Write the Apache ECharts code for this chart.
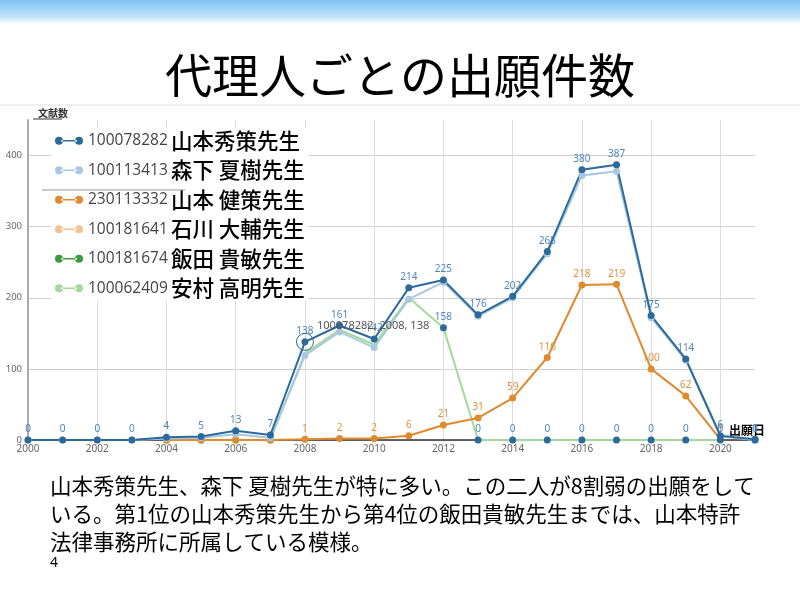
<!DOCTYPE html>
<html>
<head>
<meta charset="utf-8">
<script src="https://cdn.jsdelivr.net/npm/echarts@6/dist/echarts.min.js"></script>
<style>
  html, body { margin: 0; padding: 0; background: #fff; }
  #chart { width: 800px; height: 600px; }
</style>
</head>
<body>
<div id="chart"></div>
<script>
// 出願年
const years = ['2000','2001','2002','2003','2004','2005','2006','2007','2008','2009','2010',
  '2011','2012','2013','2014','2015','2016','2017','2018','2019','2020','2021'];

// 代理人コードと氏名（凡例順）
const agentIds = ['100078282','100113413','230113332','100181641','100181674','100062409'];
const agentNames = ['山本秀策先生','森下 夏樹先生','山本 健策先生','石川 大輔先生','飯田 貴敏先生','安村 高明先生'];

// 年ごとの文献数
const yamamotoShusaku = [0,0,0,0,4,5,13,7,138,161,142,214,225,176,202,265,380,387,175,114,6,1];
const morishita       = [0,0,0,0,2,3,8,3,119,152,130,198,222,174,200,262,372,378,172,112,5,0];
const yamamotoKensaku = [null,null,null,null,0,0,0,0,1,2,2,6,21,31,59,116,218,219,100,62,1,null];
const ishikawa        = [null,null,null,null,0,0,0,0,null,null,null,null,null,null,null,null,null,null,null,null,null,null];
const iida            = [null,null,null,null,0,0,0,0,null,null,null,null,null,null,null,null,null,null,null,null,null,null];
const yasumura        = [null,null,null,null,0,0,0,0,122,155,134,200,158,0,0,0,0,0,0,0,0,null];
// ラベル付きで表示されている点（2012年以降）
const markedPoints    = [null,null,null,null,null,null,null,null,null,null,null,null,158,0,0,0,0,0,0,0,0,0];

const colors = ['#2b6a9b','#a9c8e0','#e08a2e','#f5c18d','#3d9a3d','#a3d99a'];
const labelBlue = '#4d87bd';

const iconPath = 'path://M0,5a4,4 0 1,0 8,0a4,4 0 1,0 -8,0Z M20,5a4,4 0 1,0 8,0a4,4 0 1,0 -8,0Z M6,4.2h16v1.6h-16Z';

function lineSeries(idx, data, extra) {
  return Object.assign({
    name: agentNames[idx],
    type: 'line',
    data: data,
    symbol: 'circle',
    symbolSize: 7,
    showAllSymbol: true,
    connectNulls: false,
    color: colors[idx],
    lineStyle: { width: 2, color: colors[idx] },
    itemStyle: { color: colors[idx] },
    emphasis: { disabled: true },
  }, extra || {});
}

const chart = echarts.init(document.getElementById('chart'));
chart.setOption({
  backgroundColor: '#fff',
  animation: false,
  textStyle: { fontFamily: 'Noto Sans, Noto Sans CJK JP' },
  title: {
    text: '代理人ごとの出願件数',
    left: 'center',
    top: 47,
    textStyle: { fontSize: 47, fontWeight: 'normal', color: '#000', fontFamily: 'Noto Sans CJK JP' },
  },
  graphic: [
    {
      type: 'rect', left: 0, top: 0, z: 0,
      shape: { width: 800, height: 24 },
      style: {
        fill: new echarts.graphic.LinearGradient(0, 0, 0, 1, [
          { offset: 0, color: '#80c2f3' },
          { offset: 0.7, color: '#c0e2fb' },
          { offset: 1, color: '#ffffff' },
        ]),
      },
    },
    { type: 'line', z: 1, shape: { x1: 0, y1: 105, x2: 800, y2: 105 }, style: { stroke: '#e2e2e2', lineWidth: 1 } },
    { type: 'line', z: 20, shape: { x1: 33, y1: 119, x2: 62, y2: 119 }, style: { stroke: '#333', lineWidth: 1 } },
    { type: 'line', z: 20, shape: { x1: 42, y1: 190, x2: 185, y2: 190 }, style: { stroke: '#999', lineWidth: 1 } },
    {
      type: 'text', left: 50, top: 472, z: 10,
      style: {
        text: '山本秀策先生、森下 夏樹先生が特に多い。この二人が8割弱の出願をして\nいる。第1位の山本秀策先生から第4位の飯田貴敏先生までは、山本特許\n法律事務所に所属している模様。',
        fontSize: 21.5, lineHeight: 28, fill: '#000', fontFamily: 'Noto Sans CJK JP',
      },
    },
    {
      type: 'text', left: 50, top: 556, z: 10,
      style: { text: '4', fontSize: 14, fill: '#000', fontFamily: 'Noto Sans' },
    },
  ],
  legend: {
    orient: 'vertical',
    left: 51,
    top: 128,
    padding: [2, 4, 2, 4],
    itemGap: 8,
    itemWidth: 28,
    itemHeight: 10,
    backgroundColor: '#fff',
    z: 10,
    data: agentNames.map(n => ({ name: n, icon: iconPath })),
    formatter: name => `{id|${agentIds[agentNames.indexOf(name)]}} {nm|${name}}`,
    textStyle: {
      rich: {
        id: { fontSize: 15.5, color: '#444', fontFamily: 'Open Sans', lineHeight: 24 },
        nm: { fontSize: 21.5, color: '#000', fontFamily: 'Noto Sans CJK JP', fontWeight: 500, lineHeight: 24 },
      },
    },
  },
  grid: { left: 28, right: 45, top: 120, bottom: 160, containLabel: false },
  xAxis: {
    type: 'category',
    data: years,
    boundaryGap: false,
    name: '出願日',
    nameLocation: 'end',
    nameGap: -26,
    nameTextStyle: {
      fontSize: 12, fontWeight: 'bold', color: '#000', align: 'left',
      verticalAlign: 'bottom', padding: [0, 0, 2, 0], backgroundColor: 'rgba(255,255,255,0.8)',
    },
    axisLine: { show: true, lineStyle: { color: '#333', width: 1.5 } },
    axisTick: { show: false },
    axisLabel: { interval: 1, color: '#666', fontSize: 10, margin: 4 },
    splitLine: { show: true, interval: 1, lineStyle: { color: '#dcdcdc', width: 1 } },
  },
  yAxis: {
    type: 'value',
    min: 0,
    max: 450,
    interval: 100,
    name: '文献数',
    nameLocation: 'end',
    nameGap: 1,
    nameTextStyle: { fontSize: 10, fontWeight: 'bold', color: '#333', align: 'left', padding: [0, 0, 0, 10] },
    axisLine: { show: true, lineStyle: { color: '#aaa', width: 2 } },
    axisTick: { show: false },
    axisLabel: { color: '#666', fontSize: 9.5, margin: 6, showMaxLabel: false },
    splitLine: { show: true, showMaxLine: false, lineStyle: { color: '#d0d0d0', width: 1 } },
  },
  series: [
    lineSeries(4, iida),
    lineSeries(3, ishikawa),
    lineSeries(5, yasumura, { showSymbol: false }),
    lineSeries(2, yamamotoKensaku, {
      label: {
        show: true, position: 'top', distance: 2, fontSize: 10, color: '#e0913a',
        formatter: p => (p.value ? p.value : ''),
      },
    }),
    lineSeries(1, morishita),
    lineSeries(0, yamamotoShusaku, {
      label: { show: true, position: 'top', distance: 2, fontSize: 10, color: labelBlue },
      markPoint: {
        symbol: 'circle',
        symbolSize: 17,
        silent: true,
        itemStyle: { color: 'rgba(0,0,0,0)', borderColor: '#2b6a9b', borderWidth: 1 },
        label: {
          show: true, position: [21, -13], fontSize: 11, color: '#555',
          formatter: () => `${agentIds[0]}, ${years[8]}, ${yamamotoShusaku[8]}`,
        },
        data: [{ coord: [years[8], yamamotoShusaku[8]] }],
      },
    }),
    {
      name: 'marked',
      type: 'line',
      data: markedPoints,
      symbol: 'circle',
      symbolSize: 7,
      showAllSymbol: true,
      lineStyle: { width: 0, opacity: 0 },
      itemStyle: { color: colors[0] },
      label: { show: true, position: 'top', distance: 2, fontSize: 10, color: labelBlue },
      emphasis: { disabled: true },
      z: 3,
    },
  ],
});
</script>
</body>
</html>
